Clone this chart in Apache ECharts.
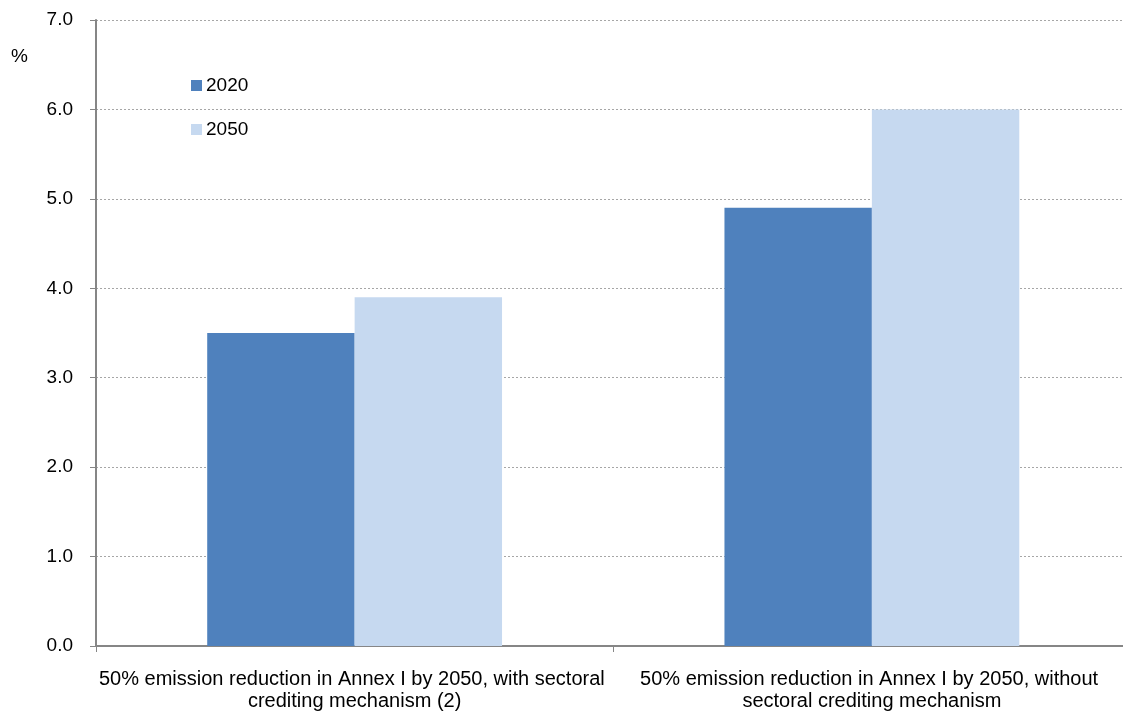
<!DOCTYPE html>
<html>
<head>
<meta charset="utf-8">
<script src="https://cdn.jsdelivr.net/npm/echarts@6/dist/echarts.min.js"></script>
<style>
  html, body { margin: 0; padding: 0; background: #fff; overflow: hidden; }
  #chart { width: 1132px; height: 713px; }
</style>
</head>
<body>
<div id="chart"></div>
<script>
const categories = [
  '50% emission reduction in Annex I by 2050, with sectoral crediting mechanism (2)',
  '50% emission reduction in Annex I by 2050, without sectoral crediting mechanism'
];
const seriesNames = ['2020', '2050'];
const values2020 = [3.5, 4.9];
const values2050 = [3.9, 6.0];
const yTicks = [0, 1, 2, 3, 4, 5, 6, 7];

const FONT = 'Liberation Sans, Arial, sans-serif';
const chart = echarts.init(document.getElementById('chart'), null, { renderer: 'canvas' });

chart.setOption({
  animation: false,
  backgroundColor: '#ffffff',
  textStyle: { fontFamily: FONT, color: '#000' },
  grid: { left: 96, right: 0, top: 20, bottom: 67, containLabel: false },
  legend: {
    orient: 'vertical',
    left: 186,
    top: 71,
    itemWidth: 11,
    itemHeight: 11,
    itemGap: 25,
    icon: 'rect',
    selectedMode: false,
    textStyle: { fontFamily: FONT, fontSize: 19, color: '#000', padding: [0, 0, 0, -1] },
    data: seriesNames
  },
  graphic: [{
    type: 'text',
    left: 11,
    top: 47,
    style: { text: '%', font: '19px ' + FONT, fill: '#000' }
  }],
  xAxis: {
    type: 'category',
    data: categories,
    axisLine: { lineStyle: { color: '#868686', width: 2 } },
    axisTick: { show: true, length: 6, lineStyle: { color: '#868686' } },
    axisLabel: {
      interval: 0,
      margin: 22,
      fontSize: 20,
      lineHeight: 22,
      color: '#000',
      fontFamily: FONT,
      width: 515,
      overflow: 'break'
    },
    splitLine: { show: false }
  },
  yAxis: {
    type: 'value',
    min: yTicks[0],
    max: yTicks[yTicks.length - 1],
    interval: 1,
    axisLine: { show: true, lineStyle: { color: '#868686', width: 2 } },
    axisTick: { show: true, length: 6, lineStyle: { color: '#868686' } },
    axisLabel: {
      margin: 23,
      fontSize: 19,
      color: '#000',
      fontFamily: FONT,
      formatter: v => v.toFixed(1)
    },
    splitLine: { show: true, lineStyle: { color: '#a6a6a6', type: [2, 2], width: 1 } }
  },
  series: [
    {
      name: seriesNames[0],
      type: 'bar',
      data: values2020,
      barGap: '0%',
      barCategoryGap: '43%',
      itemStyle: { color: '#4f81bd' }
    },
    {
      name: seriesNames[1],
      type: 'bar',
      data: values2050,
      barGap: '0%',
      barCategoryGap: '43%',
      itemStyle: { color: '#c6d9f0' }
    }
  ]
});
</script>
</body>
</html>
